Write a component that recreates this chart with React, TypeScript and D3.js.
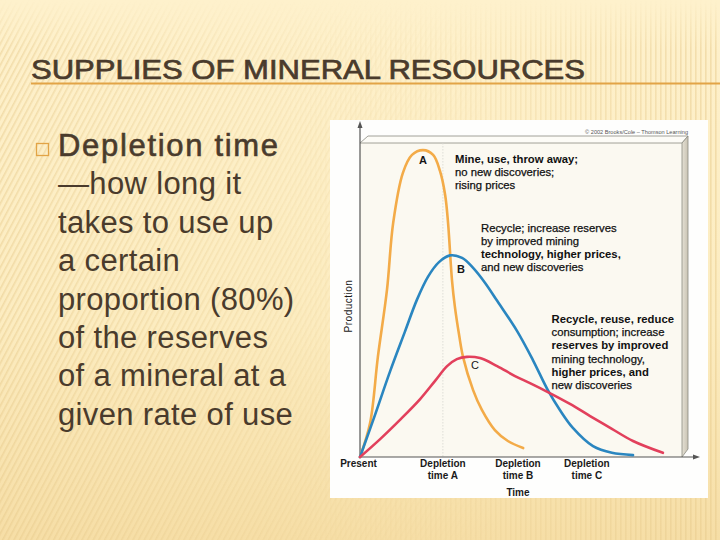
import React from "react";
import * as d3 from "d3";

const W = 720;
const H = 540;

// production curves, [time, production] on a 0-100 scale
const seriesA: [number, number][] = [
  [0, 0], [3.1, 10.6], [5.5, 31.3], [8.3, 52.2], [10.2, 73.1], [13.2, 88.8], [16, 94.4],
  [19.4, 95.9], [22.5, 94.4], [24.6, 89.4], [26.2, 81.9], [27.1, 73.1], [28.3, 55.3],
  [29.2, 46.9], [30.5, 38.1], [31.7, 31.3], [34.8, 20.9], [37.5, 14.7], [41.5, 8.4],
  [45.5, 5], [50.2, 2.8],
];
const seriesB: [number, number][] = [
  [0, 0], [4.6, 13.1], [9.2, 26.6], [13.8, 39.1], [17.5, 49.1], [20.9, 56.3], [24.3, 60.9],
  [27.7, 63], [31.4, 62.2], [34.8, 59.1], [38.5, 54.4], [42.2, 48.8], [48.3, 39.4],
  [53.2, 30.3], [57.8, 20.9], [61.5, 14.7], [65.5, 9.1], [71.7, 3.4], [77.5, 1.3], [84, 0.6],
];
const seriesC: [number, number][] = [
  [0, 0], [6.2, 5.6], [12.3, 11.6], [18.5, 18.1], [23.1, 23.8], [26.8, 28.4], [29.8, 30.6],
  [32.9, 31.3], [36.9, 30.9], [42.2, 28.4], [47.7, 25.3], [52.3, 23.1], [57.8, 20.3],
  [64.6, 16.6], [70.8, 12.8], [77.5, 8.8], [84, 5], [93.2, 1.3],
];

const tickTimes = [0, 25.5, 48.6, 69.8];
const tickLabels = [["Present"], ["Depletion", "time A"], ["Depletion", "time B"], ["Depletion", "time C"]];

const title = "SUPPLIES OF MINERAL RESOURCES";
const bulletHead = "Depletion time";
const bulletLines = [
  "—how long it",
  "takes to use up",
  "a certain",
  "proportion (80%)",
  "of the reserves",
  "of a mineral at a",
  "given rate of use",
];

const noteA = ["Mine, use, throw away;", "no new discoveries;", "rising prices"];
const noteB = ["Recycle; increase reserves", "by improved mining", "technology, higher prices,", "and new discoveries"];
const noteC = [
  "Recycle, reuse, reduce",
  "consumption; increase",
  "reserves by improved",
  "mining technology,",
  "higher prices, and",
  "new discoveries",
];

const INK = "#4a3b2c";
const SANS = "'Liberation Sans', Arial, Helvetica, sans-serif";

export default function App() {
  // plot frame inside the white panel
  const x = d3.scaleLinear().domain([0, 100]).range([360, 685]);
  const y = d3.scaleLinear().domain([0, 100]).range([457, 137]);

  const line = d3
    .line<[number, number]>()
    .x((d) => x(d[0]))
    .y((d) => y(d[1]))
    .curve(d3.curveCatmullRom.alpha(0.5));

  const x0 = x(0);
  const y0 = y(0);
  const boxR = 682;
  const boxT = 143;

  const note = (lines: string[], bx: number, by: number, bold: number[]) => (
    <text x={bx} y={by} fontFamily={SANS} fontSize={11.3} fill="#111">
      {lines.map((t, i) => (
        <tspan
          key={i}
          x={bx}
          dy={i === 0 ? 0 : 13.2}
          fontWeight={bold.includes(i) ? "bold" : "normal"}
          stroke={bold.includes(i) ? "none" : "#111"}
          strokeWidth={0.25}
        >
          {t}
        </tspan>
      ))}
    </text>
  );

  return (
    <svg width={W} height={H} style={{ position: "absolute", left: 0, top: 0 }}>
      <defs>
        <linearGradient id="bg" x1="0" y1="0" x2="0" y2="1">
          <stop offset="0" stopColor="#fef1cc" />
          <stop offset="0.6" stopColor="#fcecc0" />
          <stop offset="1" stopColor="#f6dea6" />
        </linearGradient>
        <pattern id="diag" width="5" height="5" patternUnits="userSpaceOnUse" patternTransform="rotate(28)">
          <rect width="1.6" height="5" fill="#e6c98a" />
        </pattern>
        <pattern id="vert" width="5" height="5" patternUnits="userSpaceOnUse">
          <rect width="1.6" height="5" fill="#e6c98a" />
        </pattern>
        <linearGradient id="fadeL" x1="0" y1="0" x2="1" y2="0">
          <stop offset="0" stopColor="#fff" stopOpacity="0.9" />
          <stop offset="0.45" stopColor="#fff" stopOpacity="0.35" />
          <stop offset="0.7" stopColor="#fff" stopOpacity="0" />
        </linearGradient>
        <linearGradient id="fadeR" x1="0" y1="0" x2="1" y2="0">
          <stop offset="0.35" stopColor="#fff" stopOpacity="0" />
          <stop offset="0.75" stopColor="#fff" stopOpacity="0.5" />
          <stop offset="1" stopColor="#fff" stopOpacity="0.9" />
        </linearGradient>
        <linearGradient id="fadeTop" x1="0" y1="0" x2="0" y2="1">
          <stop offset="0" stopColor="#000" />
          <stop offset="0.09" stopColor="#fff" />
        </linearGradient>
        <mask id="mL">
          <rect width={W} height={H} fill="url(#fadeL)" />
        </mask>
        <mask id="mR">
          <rect width={W} height={H} fill="url(#fadeR)" />
        </mask>
        <mask id="mTop">
          <rect width={W} height={H} fill="url(#fadeTop)" />
        </mask>
        <linearGradient id="side" x1="0" y1="0" x2="1" y2="0">
          <stop offset="0" stopColor="#e4e0d4" />
          <stop offset="1" stopColor="#c9c3b3" />
        </linearGradient>
      </defs>

      {/* slide background */}
      <rect width={W} height={H} fill="url(#bg)" />
      <g mask="url(#mTop)" opacity={0.55}>
        <rect width={W} height={H} fill="url(#diag)" mask="url(#mL)" />
        <rect width={W} height={H} fill="url(#vert)" mask="url(#mR)" />
      </g>

      {/* title */}
      <text
        x={31}
        y={79}
        fontFamily={SANS}
        fontSize={28}
        fill={INK}
        stroke={INK}
        strokeWidth={0.7}
        textLength={554}
        lengthAdjust="spacingAndGlyphs"
      >
        {title}
      </text>
      <line x1={31} x2={W} y1={83.5} y2={83.5} stroke="#e2a446" strokeWidth={2} />

      {/* bullet text */}
      <rect x={36.5} y={143.5} width={12} height={12} fill="none" stroke="#e2a446" strokeWidth={1.3} />
      <text x={58} y={156} fontFamily={SANS} fontSize={31} fill={INK}>
        <tspan stroke={INK} strokeWidth={0.6} textLength={220} lengthAdjust="spacing">
          {bulletHead}
        </tspan>
        {bulletLines.map((t, i) => (
          <tspan key={i} x={58} dy={38.4} letterSpacing={0.35}>
            {t}
          </tspan>
        ))}
      </text>

      {/* figure panel */}
      <rect x={330} y={120} width={378} height={378} fill="#fefefd" />
      <rect x={x0} y={boxT} width={boxR - x0} height={y0 - boxT} fill="#fbf9f1" />
      <polygon
        points={`${x0},${boxT} ${x0 + 8},${boxT - 7} ${boxR + 6},${boxT - 7} ${boxR},${boxT}`}
        fill="#fdfcf7"
        stroke="#8a8a82"
        strokeWidth={0.8}
      />
      <polygon
        points={`${boxR},${boxT} ${boxR + 6},${boxT - 7} ${boxR + 6},${y0 - 8} ${boxR},${y0}`}
        fill="url(#side)"
        stroke="#8a8a82"
        strokeWidth={0.8}
      />
      <line
        x1={x(tickTimes[1])}
        x2={x(tickTimes[1])}
        y1={boxT}
        y2={y0}
        stroke="#d6d6d0"
        strokeWidth={0.8}
        strokeDasharray="1.5 1.5"
      />

      <text x={boxR + 6} y={134} textAnchor="end" fontFamily={SANS} fontSize={5.6} fill="#555">
        © 2002 Brooks/Cole – Thomson Learning
      </text>

      {/* axes */}
      <line x1={x0} x2={x0} y1={y0} y2={127} stroke="#555" strokeWidth={1.2} />
      <path d={`M${x0 - 2.5},${128} L${x0},${121} L${x0 + 2.5},${128} Z`} fill="#555" />
      <line x1={x0} x2={694} y1={y0} y2={y0} stroke="#555" strokeWidth={1.2} />
      <path d={`M${693},${y0 - 2.5} L${700},${y0} L${693},${y0 + 2.5} Z`} fill="#555" />

      {/* curves */}
      <path d={line(seriesA) || ""} fill="none" stroke="#f3ab48" strokeWidth={2.6} strokeLinecap="round" />
      <path d={line(seriesB) || ""} fill="none" stroke="#2a86c0" strokeWidth={2.6} strokeLinecap="round" />
      <path d={line(seriesC) || ""} fill="none" stroke="#e2405c" strokeWidth={2.6} strokeLinecap="round" />

      {/* curve letters */}
      <g fontFamily={SANS} fontSize={11} fill="#151515" textAnchor="middle">
        <text x={423} y={164} fontWeight="bold">A</text>
        <text x={461} y={273} fontWeight="bold">B</text>
        <text x={475} y={369}>C</text>
      </g>

      {note(noteA, 455, 163, [0])}
      {note(noteB, 481, 231.5, [2])}
      {note(noteC, 551.5, 323, [0, 2, 4])}

      {/* time labels */}
      <g fontFamily={SANS} fontSize={10} fontWeight="bold" fill="#1a1a1a" textAnchor="middle">
        {tickTimes.map((t, i) => (
          <text key={i} x={x(t) - (i === 0 ? 1.5 : 0)} y={467}>
            {tickLabels[i].map((s, j) => (
              <tspan key={j} x={x(t) - (i === 0 ? 1.5 : 0)} dy={j === 0 ? 0 : 11.5}>
                {s}
              </tspan>
            ))}
          </text>
        ))}
        <text x={518} y={496}>Time</text>
      </g>
      <text
        transform={`translate(352, 306) rotate(-90)`}
        textAnchor="middle"
        fontFamily={SANS}
        fontSize={10}
        letterSpacing={0.5}
        fill="#1a1a1a"
      >
        Production
      </text>
    </svg>
  );
}
